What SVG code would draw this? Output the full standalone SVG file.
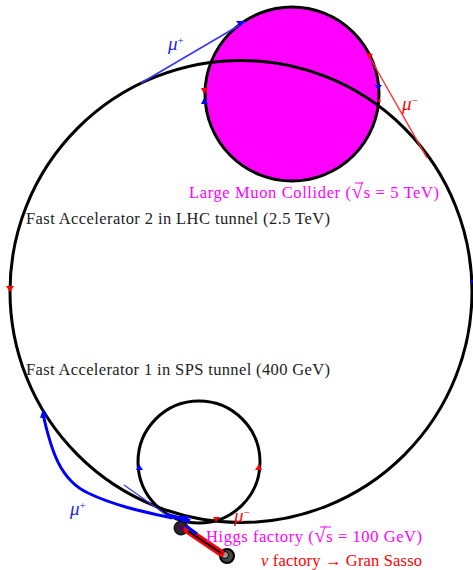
<svg xmlns="http://www.w3.org/2000/svg" width="473" height="570" viewBox="0 0 473 570">
<style>
text{font-family:"Liberation Serif","Times New Roman",serif;font-size:16.5px}
.k{fill:#222}.m{fill:#f0f}.r{fill:#f00}.b{fill:#22f}
.ring{fill:none;stroke:#000;stroke-width:3}
.mu{font-style:italic;font-size:19px}
.sup{font-size:11px;font-style:normal}
.rt{font-size:21px}
</style>
<rect width="473" height="570" fill="#fff"/>
<g id="collider"><circle cx="292" cy="94" r="87" fill="#f0f" stroke="#000" stroke-width="3"/></g>
<g id="fa2"><circle class="ring" cx="241" cy="291.5" r="231"/></g>
<g id="fa1"><circle class="ring" cx="199" cy="462" r="61"/></g>
<g id="connectors">
<path d="M141 83L245 22" stroke="#33f" stroke-width="1.5" fill="none"/>
<path d="M369 56L427 158" stroke="#f33" stroke-width="1.5" fill="none"/>
<path d="M124 485L168 516" stroke="#33f" stroke-width="1.2" fill="none"/>
<path d="M43 414C51 450 60 480 88 493C115 506 145 512 172 518" stroke="#00f" stroke-width="3" fill="none"/>
<path d="M167 515L190 521" stroke="#00f" stroke-width="4" fill="none"/>
<path d="M183 527L225 556" stroke="#000" stroke-width="2"/>
<circle cx="181" cy="528" r="7" fill="#222" stroke="#000"/>
<circle cx="181" cy="528" r="3.5" fill="#505" stroke="#333"/>
<circle cx="227" cy="556" r="7" fill="#444" stroke="#000" stroke-width="2"/>
<circle cx="225" cy="555" r="3.5" fill="#999" stroke="#000"/>
<path d="M187 530L221 553" stroke="#f00" stroke-width="7" stroke-linecap="round"/>
<path d="M188 531L221 553" stroke="#000" stroke-width="2"/>
<path d="M186 526L197 534" stroke="#00f" stroke-width="3"/>
<path d="M176 516L190 516L184 523Z" fill="#00f"/>
<g fill="#00f">
<path d="M43 409L40 418L48 417Z"/>
<path d="M245 21L240 26L236 21Z"/>
<path d="M204 98L201 104L208 104Z"/>
<path d="M378 90L375 85L382 85Z"/>
<path d="M139 464L136 470L143 470Z"/>
<path d="M472 285L470 280L473 280Z"/>
</g>
<g fill="#f00">
<path d="M204 94L201 88L208 88Z"/>
<path d="M366 53L373 54L369 59Z"/>
<path d="M378 102L379 98L381 102Z"/>
<path d="M10 292L6 286L14 286Z"/>
<path d="M259 464L255 470L262 470Z"/>
<path d="M216 522L213 517L220 517Z"/>
</g>
</g>
<g id="labels">
<text class="mu b" x="168" y="50">μ<tspan class="sup" dy="-6">+</tspan></text>
<text class="mu r" x="402" y="110">μ<tspan class="sup" dy="-6">−</tspan></text>
<text class="mu b" x="70" y="515">μ<tspan class="sup" dy="-6">+</tspan></text>
<text class="mu r" x="234" y="522">μ<tspan class="sup" dy="-6">−</tspan></text>
<text class="m" x="189" y="198" textLength="250" lengthAdjust="spacing">Large Muon Collider (<tspan class="rt">√</tspan>s = 5 TeV)</text>
<path d="M355 183H363" stroke="#f0f" stroke-width="1"/>
<text class="k" x="26" y="224" textLength="304" lengthAdjust="spacing">Fast Accelerator 2 in LHC tunnel (2.5 TeV)</text>
<text class="k" x="26" y="375" textLength="304" lengthAdjust="spacing">Fast Accelerator 1 in SPS tunnel (400 GeV)</text>
<text class="m" x="206" y="542" textLength="216" lengthAdjust="spacing">Higgs factory (<tspan class="rt">√</tspan>s = 100 GeV)</text>
<path d="M320 527H331" stroke="#f0f" stroke-width="1"/>
<text class="r" x="261" y="566" textLength="161" lengthAdjust="spacing"><tspan font-style="italic">ν</tspan> factory → Gran Sasso</text>
</g>
</svg>
